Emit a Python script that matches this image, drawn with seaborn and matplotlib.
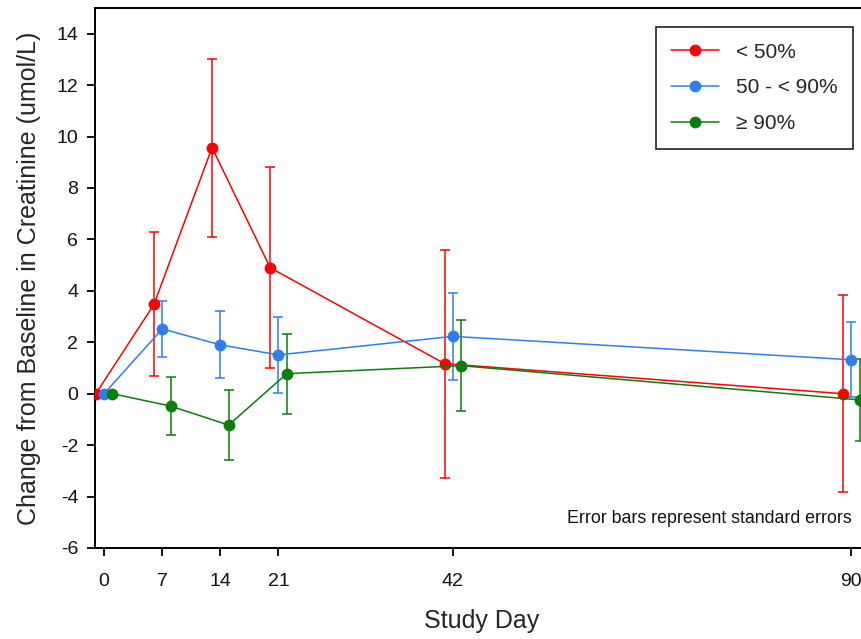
import matplotlib
matplotlib.use('Agg')
import matplotlib.pyplot as plt
import seaborn as sns
import pandas as pd

# dados
dias = [0, 7, 14, 21, 42, 90]
grupos = ['< 50%', '50 - < 90%', '\u2265 90%']

media_menor50 = [0, 3.47, 9.57, 4.90, 1.17, 0.00]
ep_menor50 = [0, 2.80, 3.46, 3.90, 4.43, 3.84]
media_50a90 = [0, 2.52, 1.90, 1.51, 2.23, 1.32]
ep_50a90 = [0, 1.08, 1.30, 1.48, 1.70, 1.46]
media_maior90 = [0, -0.48, -1.22, 0.78, 1.09, -0.24]
ep_maior90 = [0, 1.14, 1.37, 1.55, 1.76, 1.60]

cores = ['#ff0000', '#2e7fe8', '#0a7d0a']
deslocamento = [-1, 0, 1]

linhas = []
for grupo, media, ep, desl in zip(grupos, [media_menor50, media_50a90, media_maior90],
                                  [ep_menor50, ep_50a90, ep_maior90], deslocamento):
    for d, m, e in zip(dias, media, ep):
        linhas.append({'dia': d + desl, 'grupo': grupo, 'media': m, 'ep': e})
dados = pd.DataFrame(linhas)

sns.set_style("ticks")
plt.rcParams['font.family'] = ['Liberation Sans', 'DejaVu Sans']
plt.rcParams['axes.unicode_minus'] = False

fig = plt.figure(figsize=(8.61, 6.39), dpi=100)
ax = fig.add_axes([95 / 861, 91 / 639, 773 / 861, 540 / 639])

for grupo, cor in zip(grupos, cores):
    sub = dados[dados['grupo'] == grupo]
    ax.errorbar(sub['dia'], sub['media'], yerr=sub['ep'], fmt='none', ecolor=cor,
                elinewidth=1.1, capsize=3.5, capthick=1.1, zorder=2)

sns.lineplot(data=dados, x='dia', y='media', hue='grupo', palette=cores, marker='o',
             markersize=8.5, markeredgewidth=0, linewidth=1.1, ax=ax, legend=False,
             zorder=3)

ax.set_xlim(-1.1, 92)
ax.set_ylim(-6, 15)
ax.set_xticks(dias)
ax.set_yticks(range(-6, 15, 2))
ax.tick_params(axis='both', labelsize=14, length=6, width=1.3, color='black',
               labelcolor='#111111')
ax.tick_params(axis='x', pad=12)
ax.tick_params(axis='y', pad=6)
for lado in ['left', 'bottom', 'top', 'right']:
    ax.spines[lado].set_linewidth(1.4)
    ax.spines[lado].set_color('black')

ax.set_xlabel('Study Day', fontsize=18, labelpad=14)
ax.set_ylabel('Change from Baseline in Creatinine (umol/L)', fontsize=18, labelpad=11)

alcas = [plt.Line2D([], [], color=c, marker='o', markersize=8.5, markeredgewidth=0,
                    linewidth=1.1) for c in cores]
leg = fig.legend(alcas, grupos, loc='upper right', bbox_to_anchor=(853 / 861, 1 - 27 / 639),
                 fontsize=15, frameon=True, fancybox=False, edgecolor='black',
                 handlelength=2.3, labelspacing=0.8, borderpad=0.75, borderaxespad=0,
                 numpoints=1)
leg.get_frame().set_linewidth(1.3)

fig.text(852 / 861, 1 - 523 / 639, 'Error bars represent standard errors', fontsize=12.8,
         ha='right', va='baseline', color='#111111')

fig.savefig('out.png', dpi=100)
